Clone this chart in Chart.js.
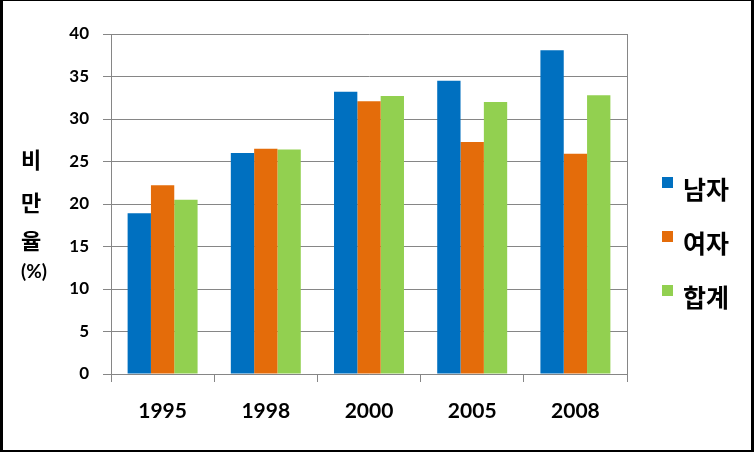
<!DOCTYPE html>
<html>
<head>
<meta charset="utf-8">
<script src="https://cdn.jsdelivr.net/npm/chart.js@4/dist/chart.umd.min.js"></script>
<style>
  html, body { margin: 0; padding: 0; background: #000; width: 754px; height: 452px; overflow: hidden; }
  #wrap { position: absolute; left: 3px; top: 1px; width: 748px; height: 449px; background: #fff; }
  canvas { display: block; }
</style>
</head>
<body>
<div id="wrap"><canvas id="c" width="748" height="449"></canvas></div>
<script>
const years = ['1995', '1998', '2000', '2005', '2008'];
const male = [18.9, 26.0, 33.2, 34.5, 38.1];
const female = [22.2, 26.5, 32.1, 27.3, 25.9];
const total = [20.5, 26.4, 32.7, 32.0, 32.8];
const seriesNames = ['남자', '여자', '합계'];
const yTitle = ['비', '만', '율', '(%)'];
const colors = ['#0070C0', '#E46C0A', '#92D050'];

const GRID = '#868686';
const FONT = "Lato, 'Noto Sans CJK KR', sans-serif";

const overlay = {
  id: 'overlay',
  afterDraw(chart) {
    const ctx = chart.ctx;
    const a = chart.chartArea;
    ctx.save();
    ctx.strokeStyle = GRID;
    ctx.lineWidth = 1;
    ctx.beginPath();
    ctx.moveTo(Math.round(a.right) + 0.5, a.top);
    ctx.lineTo(Math.round(a.right) + 0.5, a.bottom);
    ctx.stroke();
    // y axis title
    ctx.fillStyle = '#000';
    ctx.textBaseline = 'middle';
    ctx.textAlign = 'left';
    ctx.font = "bold 22px 'Noto Sans CJK KR', sans-serif";
    const ys = [159, 202, 240];
    for (let i = 0; i < 3; i++) ctx.fillText(yTitle[i], 18, ys[i]);
    ctx.font = "bold 19px " + FONT;
    ctx.fillText(yTitle[3], 18, 271);
    // legend
    const ly = [182, 236, 290];
    for (let i = 0; i < 3; i++) {
      ctx.fillStyle = colors[i];
      ctx.fillRect(659, ly[i] - 6, 11, 11);
      ctx.fillStyle = '#000';
      ctx.font = "bold 25px 'Noto Sans CJK KR', sans-serif";
      ctx.fillText(seriesNames[i], 680, ly[i] + 6);
    }
    ctx.restore();
  }
};

new Chart(document.getElementById('c'), {
  type: 'bar',
  data: {
    labels: years,
    datasets: [
      { label: seriesNames[0], data: male, backgroundColor: colors[0] },
      { label: seriesNames[1], data: female, backgroundColor: colors[1] },
      { label: seriesNames[2], data: total, backgroundColor: colors[2] }
    ]
  },
  options: {
    responsive: false,
    animation: false,
    devicePixelRatio: 1,
    layout: { padding: { left: 0, top: 33, right: 124, bottom: 0 } },
    datasets: { bar: { categoryPercentage: 0.678, barPercentage: 1.0 } },
    plugins: { legend: { display: false }, tooltip: { enabled: false } },
    scales: {
      x: {
        afterFit(s) { s.height = 76; },
        grid: { drawOnChartArea: false, offset: true, color: GRID, tickLength: 8, tickColor: GRID },
        border: { color: GRID },
        ticks: { color: '#000', padding: 17, font: { family: FONT, size: 21, weight: 'bold' } }
      },
      y: {
        min: 0, max: 40,
        afterFit(s) { s.width = 108; },
        grid: { color: GRID, tickLength: 8, tickColor: GRID },
        border: { color: GRID },
        ticks: { stepSize: 5, color: '#000', padding: 14, font: { family: FONT, size: 17, weight: 'bold' } }
      }
    }
  },
  plugins: [overlay]
});
</script>
</body>
</html>
